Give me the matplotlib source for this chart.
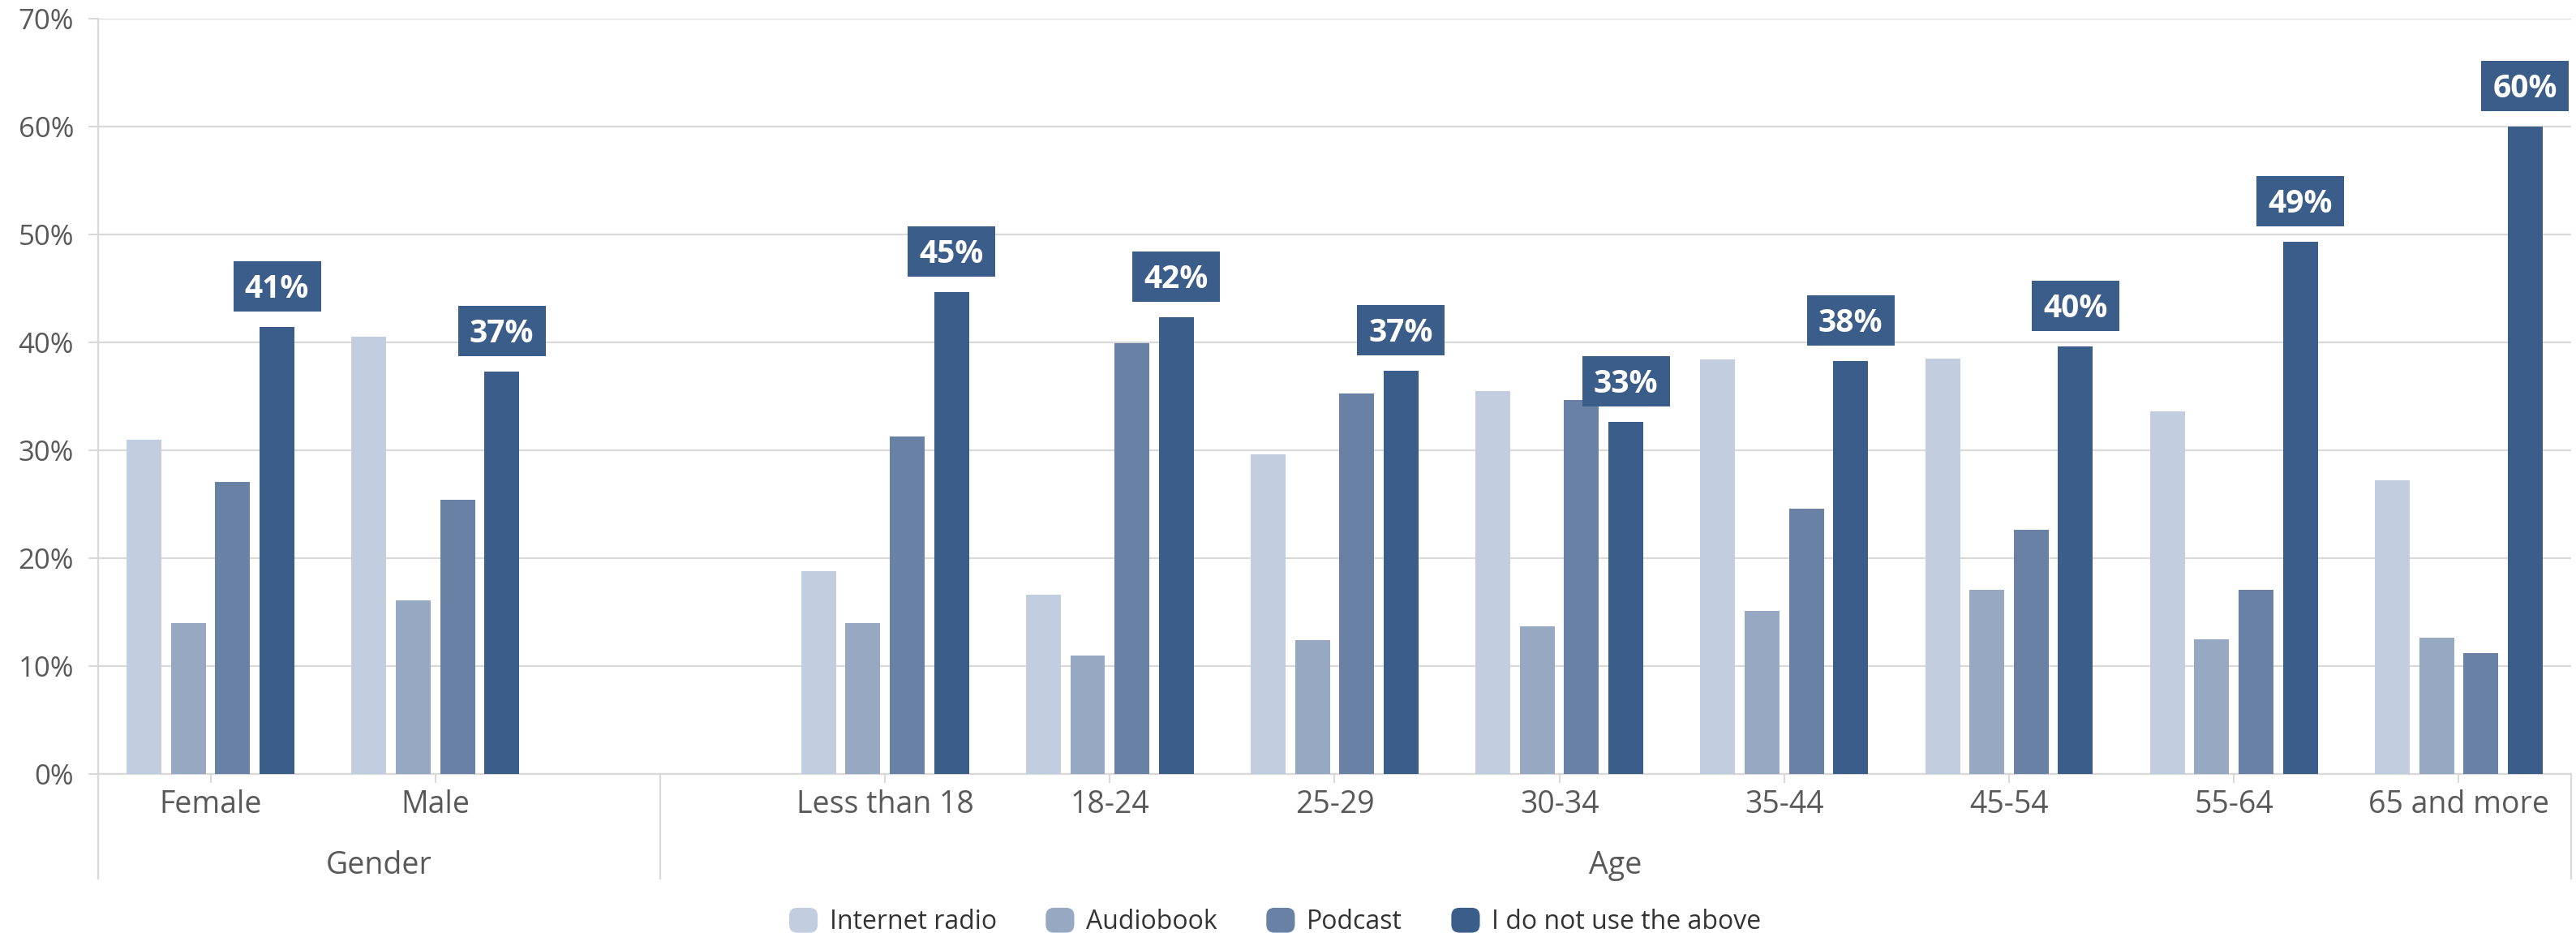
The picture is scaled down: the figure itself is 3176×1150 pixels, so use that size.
import matplotlib
matplotlib.use("Agg")
import matplotlib.pyplot as plt
import matplotlib.transforms as mtransforms
from matplotlib.patches import Rectangle, FancyBboxPatch, Patch
from matplotlib.legend_handler import HandlerPatch
import numpy as np

# ---- data -------------------------------------------------------------
categories = ["Female", "Male", "Less than 18", "18-24", "25-29", "30-34",
              "35-44", "45-54", "55-64", "65 and more"]
group_names = ["Gender", "Age"]
group_sizes = [2, 8]

series_names = ["Internet radio", "Audiobook", "Podcast", "I do not use the above"]
internet_radio = [31.0, 40.5, 18.8, 16.6, 29.6, 35.5, 38.4, 38.5, 33.6, 27.2]
audiobook = [14.0, 16.1, 14.0, 11.0, 12.4, 13.7, 15.1, 17.1, 12.5, 12.6]
podcast = [27.1, 25.4, 31.3, 39.9, 35.3, 34.7, 24.6, 22.6, 17.1, 11.2]
not_used = [41.4, 37.3, 44.7, 42.3, 37.4, 32.6, 38.3, 39.6, 49.3, 60.0]

colors = ["#c3cde0", "#97a8c3", "#6981a5", "#3b5d89"]
text_gray = "#595959"
grid_gray = "#d9d9d9"

plt.rcParams["font.family"] = ["Open Sans", "DejaVu Sans"]

DPI = 100
fig = plt.figure(figsize=(31.76, 11.5), dpi=DPI)
ax = fig.add_axes([0.0381, 0.1704, 0.9600, 0.8096])

# category slots: one empty slot between the two groups
positions = []
seps = [-0.5]
slot = 0
for gi, n in enumerate(group_sizes):
    for _ in range(n):
        positions.append(slot)
        slot += 1
    if gi < len(group_sizes) - 1:
        seps.append(slot)  # separator sits in the empty slot
        slot += 1
seps.append(slot - 0.5)
positions = np.array(positions, dtype=float)

step = 0.197
width = 0.155
all_series = [internet_radio, audiobook, podcast, not_used]
for i, (vals, c) in enumerate(zip(all_series, colors)):
    ax.bar(positions + (i - 1.5) * step, np.array(vals) / 100.0, width=width,
           color=c, zorder=3)

# value boxes above the last series
box_w, box_h, box_off = 108, 62, 50
for x, v in zip(positions + 1.5 * step, not_used):
    trans = mtransforms.Affine2D() + mtransforms.ScaledTranslation(x, v / 100.0, ax.transData)
    ax.add_patch(Rectangle((-box_w / 2, box_off - box_h / 2), box_w, box_h,
                           transform=trans, facecolor=colors[3], edgecolor="none",
                           zorder=4, clip_on=False))
    ax.annotate(f"{round(v):d}%", (x, v / 100.0), xytext=(0, (box_off - 14) * 72 / DPI),
                textcoords="offset points", ha="center", va="baseline",
                fontsize=28, fontweight="bold", color="white", zorder=5)

# axes styling
ax.set_xlim(-0.5, slot - 0.5)
ax.set_ylim(0, 0.70)
yt = np.arange(0, 0.701, 0.1)
ax.set_yticks(yt)
ax.set_yticklabels([f"{int(round(t * 100))}%" for t in yt])
ax.yaxis.grid(True, color=grid_gray, linewidth=1.6, zorder=0)
ax.set_axisbelow(True)
for s in ["top", "right"]:
    ax.spines[s].set_visible(False)
for s in ["left", "bottom"]:
    ax.spines[s].set_color(grid_gray)
    ax.spines[s].set_linewidth(1.6)
ax.tick_params(axis="y", length=8.6, width=1.5, color=grid_gray,
               labelcolor=text_gray, labelsize=25, pad=13)
ax.set_xticks(positions)
ax.set_xticklabels(categories)
ax.tick_params(axis="x", length=8, width=1.5, color=grid_gray,
               labelcolor=text_gray, labelsize=27, pad=6)

# group labels and separators
axes_h_px = 931
sep_y = -129 / axes_h_px
blend = mtransforms.blended_transform_factory(ax.transData, ax.transAxes)
for i, name in enumerate(group_names):
    cx = (seps[i] + seps[i + 1]) / 2
    ax.annotate(name, (cx, 0), xycoords=blend, xytext=(0, -94 * 72 / DPI),
                textcoords="offset points", ha="center", va="top",
                fontsize=27, color=text_gray)
for sx in seps:
    ax.plot([sx, sx], [0, sep_y], transform=blend, color=grid_gray,
            linewidth=1.6, clip_on=False)


# legend with rounded markers
class RoundHandler(HandlerPatch):
    def create_artists(self, legend, orig_handle, xdescent, ydescent, width,
                       height, fontsize, trans):
        p = FancyBboxPatch((-xdescent, -ydescent), width, height,
                           boxstyle=f"round,pad=0,rounding_size={width * 0.28}",
                           facecolor=orig_handle.get_facecolor(),
                           edgecolor="none", transform=trans)
        return [p]


handles = [Patch(facecolor=c) for c in colors]
fig.legend(handles, series_names, loc="center",
           bbox_to_anchor=(0.5 - 16 / 3176, 1 - 1136 / 1150),
           ncol=4, frameon=False, fontsize=23, labelcolor="#333333",
           handlelength=1.1, handleheight=1.1, handletextpad=0.45,
           columnspacing=1.9, handler_map={Patch: RoundHandler()})

fig.savefig("out.png", dpi=DPI, facecolor="white")
